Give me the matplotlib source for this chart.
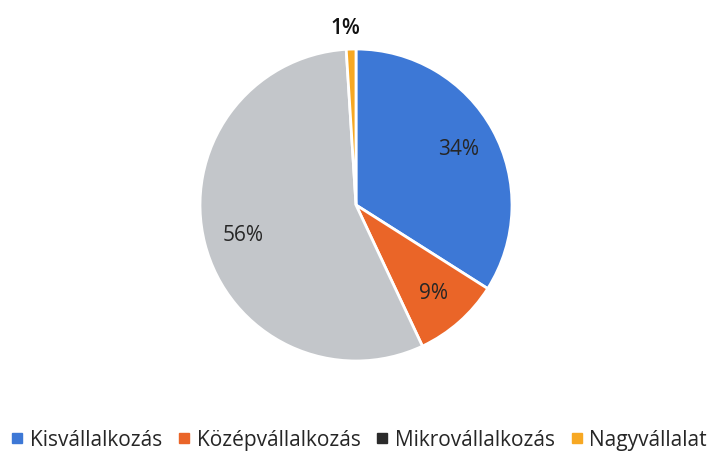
# Kördiagram: vállalkozások méret szerinti megoszlása
import numpy as np
import matplotlib.pyplot as plt
from matplotlib.lines import Line2D

plt.rcParams['font.family'] = ['Open Sans', 'DejaVu Sans']

categories = ['Kisvállalkozás', 'Középvállalkozás', 'Mikrovállalkozás', 'Nagyvállalat']
shares = [34, 9, 56, 1]
colors = ['#3d78d6', '#ea6528', '#c3c6ca', '#f7a823']
legend_colors = ['#3d78d6', '#ea6528', '#2b2b2b', '#f7a823']

W, H = 708, 452
fig = plt.figure(figsize=(W / 100, H / 100), dpi=100)
cx, cy, r = 356, 206, 156
ax = fig.add_axes([(cx - r) / W, (H - cy - r) / H, 2 * r / W, 2 * r / H])

wedges, texts, autotexts = ax.pie(
    shares, colors=colors, startangle=90, counterclock=False,
    autopct='%1.0f%%', pctdistance=0.75,
    wedgeprops=dict(edgecolor='white', linewidth=2),
    textprops=dict(fontsize=15, color='#262626'))

# a kis szelet címkéje kívül
for w, t in zip(wedges, autotexts):
    ang = np.deg2rad((w.theta1 + w.theta2) / 2)
    if w.theta2 - w.theta1 < 10:
        t.set_position((1.14 * np.cos(ang) - 0.03, 1.14 * np.sin(ang)))
        t.set_color('#111111')
        t.set_fontweight('semibold')

ax.set_xlim(-1, 1)
ax.set_ylim(-1, 1)
ax.axis('off')

handles = [Line2D([0], [0], marker='s', linestyle='', markersize=6.5,
                  markerfacecolor=c, markeredgecolor=c) for c in legend_colors]
fig.legend(handles, categories, loc='center', bbox_to_anchor=(359 / W, (H - 441) / H),
           ncol=4, frameon=False, fontsize=15, handlelength=0.6,
           handletextpad=0.3, columnspacing=0.75, labelcolor='#262626',
           borderaxespad=0, borderpad=0)

fig.savefig('out.png', dpi=100, facecolor='white')
